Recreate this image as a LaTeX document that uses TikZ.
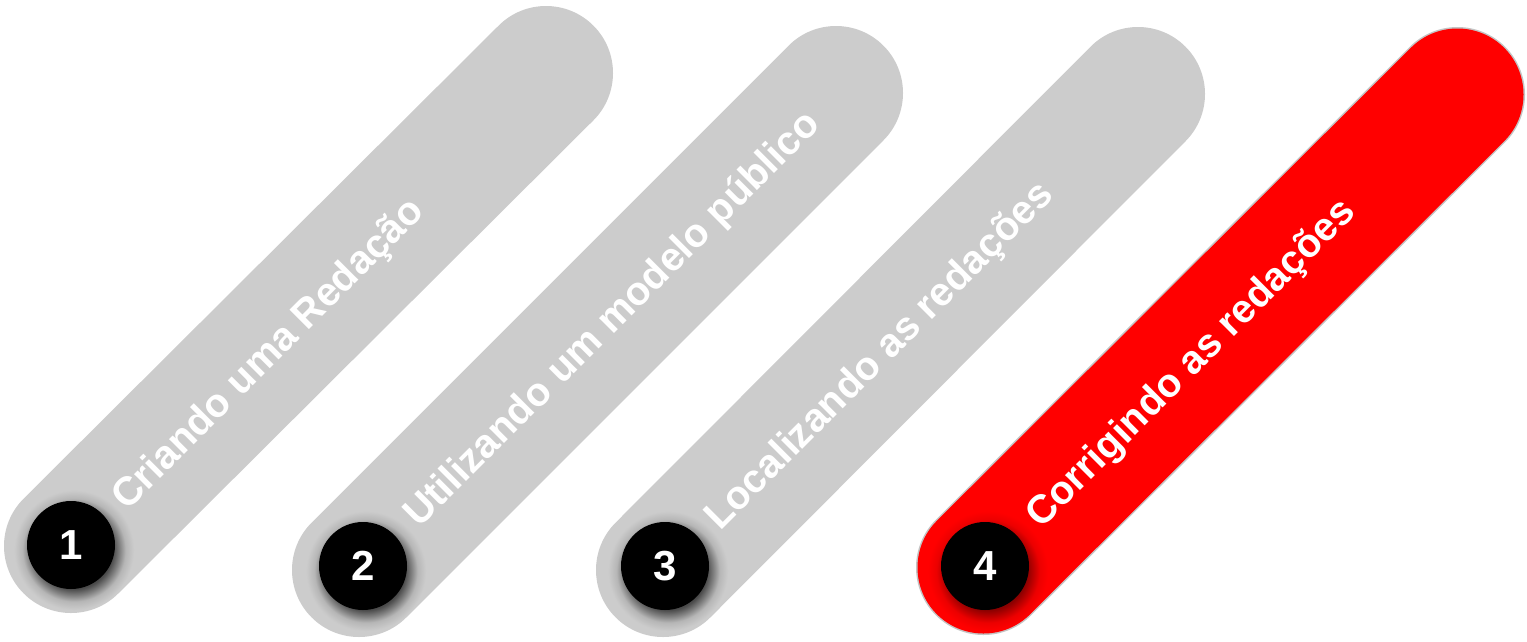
\documentclass[tikz,border=0pt]{standalone}
\usepackage{fontspec}
\setmainfont{Liberation Sans}
\usetikzlibrary{calc}
\definecolor{barG}{HTML}{CCCCCC}
\definecolor{barR}{HTML}{FF0000}
\definecolor{edgeR}{HTML}{C4C4C4}
\definecolor{hG1}{HTML}{4A4A4A}
\definecolor{hG2}{HTML}{828282}
\definecolor{hG3}{HTML}{B6B6B6}
\definecolor{hR1}{HTML}{8A0000}
\definecolor{hR2}{HTML}{BE0000}
\definecolor{hR3}{HTML}{EC0000}
\pgfdeclareradialshading{haloG}{\pgfpoint{0bp}{0bp}}{color(0bp)=(hG1); color(16.2bp)=(hG1); color(19bp)=(hG2); color(21.5bp)=(hG3); color(25bp)=(barG); color(50bp)=(barG)}
\pgfdeclareradialshading{haloR}{\pgfpoint{0bp}{0bp}}{color(0bp)=(hR1); color(16.2bp)=(hR1); color(19bp)=(hR2); color(21.5bp)=(hR3); color(25bp)=(barR); color(50bp)=(barR)}
\tikzset{
  barline/.style={line width=134pt, line cap=round},
  halo/.style={shading=#1},
  lbl/.style={text=white, font=\bfseries\fontsize{40}{48}\selectfont, anchor=base west, rotate=45, inner sep=0pt},
  num/.style={circle, fill=black, minimum size=88pt, inner sep=0pt, text=white, font=\bfseries\fontsize{42}{48}\selectfont}
}
\begin{document}
\begin{tikzpicture}[x=1pt,y=-1pt]
\useasboundingbox (0,0) rectangle (1527,641);
\fill[white] (0,0) rectangle (1527,641);
% bar 1
\coordinate (b1) at (71,546); \coordinate (e1) at (546,73); \coordinate (c1) at (71,545);
\draw[barline, barG] (b1) -- (e1);
\shade[halo=haloG] ($(c1)+(3,5)$) circle (60pt);
\node[num] (n1) at (c1) {1};
\node[lbl] (t1) at (127,512) {Criando uma Redação};
% bar 2
\coordinate (b2) at (359,570); \coordinate (e2) at (836,93); \coordinate (c2) at (363,566);
\draw[barline, barG] (b2) -- (e2);
\shade[halo=haloG] ($(c2)+(3,5)$) circle (60pt);
\node[num] (n2) at (c2) {2};
\node[lbl] (t2) at (419,529) {Utilizando um modelo público};
% bar 3
\coordinate (b3) at (663,570); \coordinate (e3) at (1138,94); \coordinate (c3) at (665,566);
\draw[barline, barG] (b3) -- (e3);
\shade[halo=haloG] ($(c3)+(3,5)$) circle (60pt);
\node[num] (n3) at (c3) {3};
\node[lbl] (t3) at (720,532) {Localizando as redações};
% bar 4
\coordinate (b4) at (983.5,567.5); \coordinate (e4) at (1457.5,94.5); \coordinate (c4) at (985,566);
\draw[line width=135pt, line cap=round, edgeR] (b4) -- (e4);
\draw[line width=132pt, line cap=round, barR] (b4) -- (e4);
\shade[halo=haloR] ($(c4)+(3,5)$) circle (60pt);
\node[num] (n4) at (c4) {4};
\node[lbl] (t4) at (1041,530) {Corrigindo as redações};
\end{tikzpicture}
\end{document}
